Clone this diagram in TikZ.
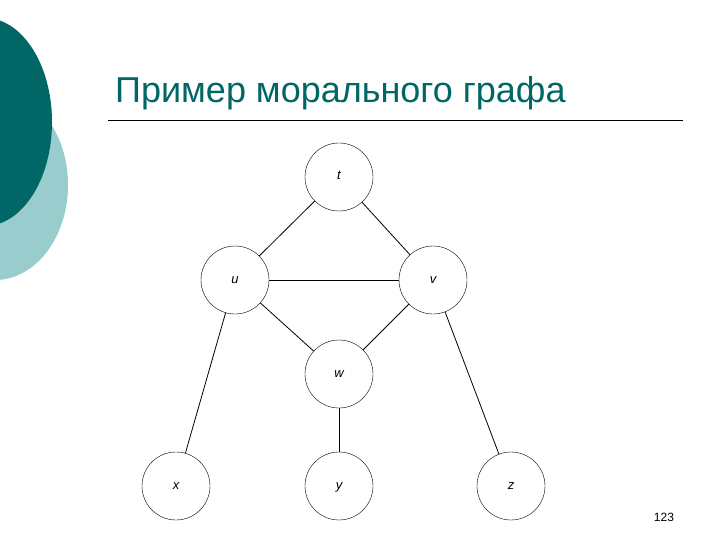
\documentclass[tikz,border=0pt]{standalone}
\usepackage{fontspec}
\setmainfont{Liberation Sans}
\begin{document}
\begin{tikzpicture}[x=1pt,y=-1pt,
  vert/.style={circle,draw,minimum size=68pt,inner sep=0pt,text height=8pt,text depth=2pt,font=\fontsize{13}{15}\selectfont\itshape},
  edge/.style={draw,line width=0.8pt}]
\definecolor{darkteal}{HTML}{006666}
\definecolor{lightteal}{HTML}{99CCCC}
\useasboundingbox (0,0) rectangle (720,540);
\fill[lightteal] (-5,185) ellipse [x radius=73, y radius=95];
\fill[darkteal] (-15,122) ellipse [x radius=67, y radius=104];
\node[anchor=base west,inner sep=0pt,text=darkteal,font=\fontsize{36}{42}\selectfont] (title) at (115,103) {Пример морального графа};
\coordinate (l1) at (108,120);
\coordinate (l2) at (683,120);
\draw[line width=0.8pt] (l1) -- (l2);
\node[vert] (t) at (339,177) {t};
\node[vert] (u) at (235,280) {u};
\node[vert] (v) at (433,280) {v};
\node[vert] (w) at (339,374) {w};
\node[vert] (x) at (176,486) {x};
\node[vert] (y) at (339,486) {y};
\node[vert] (z) at (511,486) {z};
\draw[edge] (t) -- (u); \draw[edge] (t) -- (v);
\draw[edge] (u) -- (v); \draw[edge] (u) -- (w); \draw[edge] (v) -- (w);
\draw[edge] (u) -- (x); \draw[edge] (w) -- (y); \draw[edge] (v) -- (z);
\node[font=\fontsize{12}{14}\selectfont] (pg) at (664,517) {123};
\end{tikzpicture}
\end{document}
